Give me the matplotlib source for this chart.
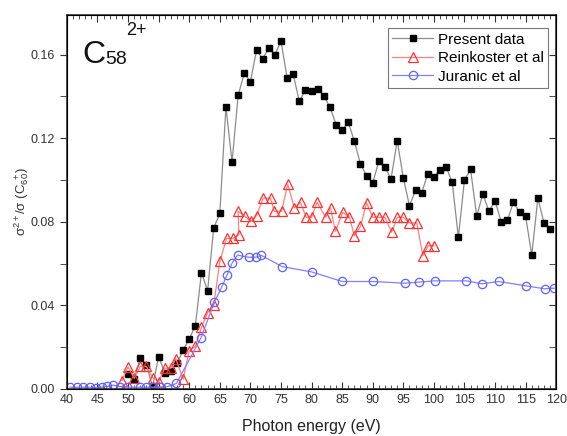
import numpy as np
import matplotlib
matplotlib.use("Agg")
import matplotlib.pyplot as plt
from matplotlib.ticker import MultipleLocator

plt.rcParams['font.family'] = ['Liberation Sans', 'DejaVu Sans']
plt.rcParams['mathtext.fontset'] = 'custom'
plt.rcParams['mathtext.rm'] = 'Liberation Sans'
plt.rcParams['mathtext.it'] = 'Liberation Sans:italic'

# Present data (black squares)
present_e = [50, 51, 52, 53, 54, 55, 56, 57, 58, 59, 60, 61, 62, 63, 64, 65,
             66, 67, 68, 69, 70, 71, 72, 73, 74, 75, 76, 77, 78, 79, 80, 81,
             82, 83, 84, 85, 86, 87, 88, 89, 90, 91, 92, 93, 94, 95, 96, 97,
             98, 99, 100, 101, 102, 103, 104, 105, 106, 107, 108, 109, 110,
             111, 112, 113, 114, 115, 116, 117, 118, 119]
present_v = [0.0070, 0.0046, 0.0147, 0.0116, 0.0012, 0.0155, 0.0077, 0.0088,
             0.0122, 0.0186, 0.0239, 0.0302, 0.0557, 0.0469, 0.0770, 0.0840,
             0.1350, 0.1085, 0.1405, 0.1510, 0.1470, 0.1620, 0.1580, 0.1630,
             0.1600, 0.1664, 0.1490, 0.1505, 0.1376, 0.1430, 0.1425, 0.1435,
             0.1400, 0.1350, 0.1265, 0.1237, 0.1277, 0.1185, 0.1076, 0.1020,
             0.0985, 0.1090, 0.1060, 0.1006, 0.1188, 0.1010, 0.0877, 0.0950,
             0.0937, 0.1030, 0.1014, 0.1046, 0.1062, 0.0988, 0.0725, 0.1000,
             0.1050, 0.0826, 0.0933, 0.0850, 0.0900, 0.0800, 0.0806, 0.0893,
             0.0845, 0.0826, 0.0640, 0.0913, 0.0794, 0.0765]

# Reinkoster et al (red triangles)
rein_e = [49, 50, 51, 52, 53, 54, 55, 56, 57, 57.8, 59, 60, 61, 62, 63, 64,
          65, 66.1, 67.2, 68.1, 68.0, 69.1, 70.1, 71.0, 72.1, 73.3, 73.9,
          75.1, 76.1, 77.2, 78.2, 79.1, 80.0, 80.9, 82.3, 83.1, 83.9, 85.1,
          86.2, 87.0, 88.0, 89.0, 90.0, 91.0, 92.0, 93.1, 94.0, 95.0, 96.0,
          97.2, 98.2, 99.1, 100.0]
rein_v = [0.0040, 0.0105, 0.0051, 0.0108, 0.0108, 0.0054, 0.0035, 0.0099,
          0.0099, 0.0145, 0.0047, 0.0183, 0.0203, 0.0294, 0.0364, 0.0400,
          0.0610, 0.0720, 0.0720, 0.0738, 0.0850, 0.0826, 0.0802, 0.0829,
          0.0913, 0.0913, 0.0850, 0.0850, 0.0980, 0.0866, 0.0893, 0.0821,
          0.0821, 0.0893, 0.0821, 0.0866, 0.0754, 0.0845, 0.0821, 0.0732,
          0.0778, 0.0890, 0.0821, 0.0821, 0.0821, 0.0750, 0.0821, 0.0821,
          0.0794, 0.0794, 0.0638, 0.0685, 0.0685]

# Juranic et al (blue circles)
jur_e = [40.5, 41.6, 42.7, 43.7, 44.7, 45.7, 46.6, 47.6, 48.7, 49.8, 52.0,
         53.0, 54.1, 55.2, 56.3, 57.9, 61.9, 64.1, 65.3, 66.2, 67.0, 67.9,
         69.7, 70.9, 71.8, 75.2, 80.0, 85.0, 90.0, 95.2, 97.6, 100.1, 105.3,
         107.9, 110.6, 115.1, 118.1, 119.7]
jur_v = [0.0008, 0.0008, 0.0008, 0.0008, 0.0006, 0.0008, 0.0012, 0.0018,
         0.0010, 0.0008, 0.0008, 0.0008, 0.0008, 0.0010, 0.0010, 0.0026,
         0.0243, 0.0415, 0.0487, 0.0546, 0.0602, 0.0640, 0.0630, 0.0630,
         0.0639, 0.0585, 0.0560, 0.0514, 0.0514, 0.0506, 0.0511, 0.0517,
         0.0517, 0.0503, 0.0514, 0.0493, 0.0479, 0.0482]

fig = plt.figure(figsize=(5.67, 4.36), dpi=100)
ax = fig.add_axes([0.118, 0.108, 0.863, 0.858])

ax.plot(present_e, present_v, color='#8c8c8c', lw=0.9, marker='s', ms=5,
        mfc='black', mec='black', label='Present data')
ax.plot(rein_e, rein_v, color='#ff8080', lw=0.9, marker='^', ms=6.5,
        mfc='none', mec='#ff3030', mew=0.9, label='Reinkoster et al')
ax.plot(jur_e, jur_v, color='#8080ff', lw=0.9, marker='o', ms=6,
        mfc='none', mec='#6060ff', mew=0.9, label='Juranic et al')

ax.set_xlim(40, 120)
ax.set_ylim(0, 0.179)
ax.xaxis.set_major_locator(MultipleLocator(5))
ax.xaxis.set_minor_locator(MultipleLocator(1))
ax.yaxis.set_major_locator(MultipleLocator(0.04))
ax.yaxis.set_minor_locator(MultipleLocator(0.02))
ax.yaxis.set_major_formatter(plt.FormatStrFormatter('%.2f'))

ax.tick_params(axis='x', which='both', direction='in', top=True,
               labelsize=9, colors='#333333', pad=4)
ax.tick_params(axis='x', which='major', length=5)
ax.tick_params(axis='x', which='minor', length=3)
ax.tick_params(axis='y', which='both', direction='out', length=5,
               labelsize=9, colors='#333333')
for spine in ax.spines.values():
    spine.set_color('#333333')
    spine.set_linewidth(1.2)

# right-side inward ticks
axr = ax.twinx()
axr.set_ylim(ax.get_ylim())
axr.yaxis.set_major_locator(MultipleLocator(0.04))
axr.yaxis.set_minor_locator(MultipleLocator(0.02))
axr.tick_params(axis='y', which='both', direction='in', length=5,
                labelright=False, colors='#333333')

ax.set_xlabel('Photon energy (eV)', fontsize=11.5, color='#222222', labelpad=9)
ax.set_ylabel(r'$\mathregular{\sigma^{2+}/\sigma\ (C_{60}^{\ +})}$',
              fontsize=9.5, color='#333333', labelpad=0)

# C58 2+ label
ax.text(0.031, 0.872, 'C', transform=ax.transAxes, fontsize=23,
        va='baseline', ha='left', color='#111111')
ax.text(0.079, 0.858, '58', transform=ax.transAxes, fontsize=14,
        va='bottom', ha='left', color='#111111')
ax.text(0.122, 0.935, '2+', transform=ax.transAxes, fontsize=13,
        va='bottom', ha='left', color='#111111')

leg = ax.legend(loc='upper right', bbox_to_anchor=(0.984, 0.965),
                fontsize=11, frameon=True, fancybox=False, handlelength=2.7,
                borderpad=0.3, labelspacing=0.3, handletextpad=0.3,
                borderaxespad=0.0)
leg.get_frame().set_edgecolor('#555555')
leg.get_frame().set_linewidth(0.8)

fig.savefig('out.png', dpi=100)
